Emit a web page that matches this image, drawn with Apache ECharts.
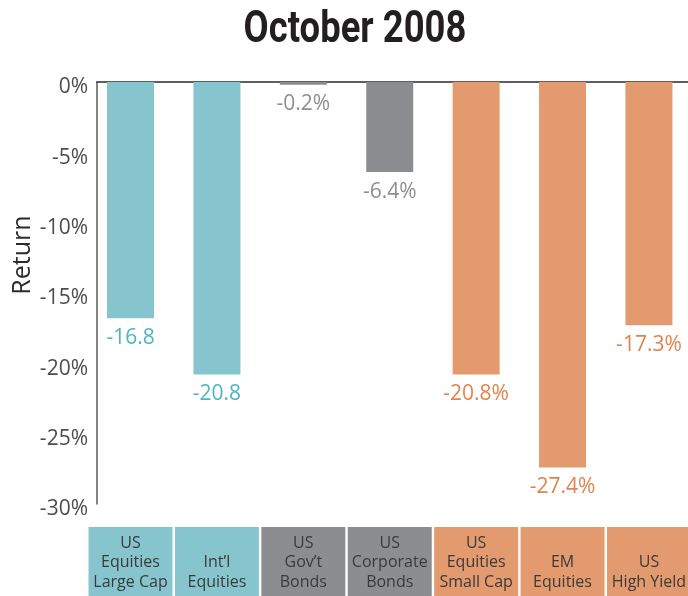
<!DOCTYPE html>
<html>
<head>
<meta charset="utf-8">
<title>October 2008</title>
<script src="https://cdn.jsdelivr.net/npm/echarts@6/dist/echarts.min.js"></script>
<style>
  html, body { margin: 0; padding: 0; background: #ffffff; }
  #chart { width: 688px; height: 596px; }
</style>
</head>
<body>
<div id="chart"></div>
<script>
// Asset classes, October 2008 monthly returns (%)
const categories = [
  'US\nEquities\nLarge Cap',
  'Int’l\nEquities',
  'US\nGov’t\nBonds',
  'US\nCorporate\nBonds',
  'US\nEquities\nSmall Cap',
  'EM\nEquities',
  'US\nHigh Yield'
];
const returns = [-16.8, -20.8, -0.2, -6.4, -20.8, -27.4, -17.3];
const valueSuffix = ['', '', '%', '%', '%', '%', '%'];
const groups = ['equity', 'equity', 'bond', 'bond', 'risk', 'risk', 'risk'];

// Y axis: 0% down to -30% in steps of 5
const yMin = -30;
const yMax = 0;
const yStep = 5;

const palette = {
  equity: { bar: '#86c5cd', text: '#4fb5c3' },
  bond:   { bar: '#8c8d91', text: '#8e8f93' },
  risk:   { bar: '#e39a6f', text: '#e0844f' }
};

const baseFont = '"Open Sans", "DejaVu Sans", sans-serif';

// Shared horizontal mapping: index positions on a value axis
const xMin = -0.388;
const xMax = 6.452;

const chart = echarts.init(document.getElementById('chart'), null, { renderer: 'canvas' });

chart.setOption({
  animation: false,
  backgroundColor: '#ffffff',
  // Condensed bold heading, narrowed horizontally around its centre
  graphic: [
    {
      type: 'text',
      x: 355,
      y: 8,
      scaleX: 0.81,
      scaleY: 1,
      originX: 0,
      originY: 0,
      style: {
        text: 'October 2008',
        fontFamily: 'Roboto, "Liberation Sans", sans-serif',
        fontWeight: 'bold',
        fontSize: 45,
        fill: '#231f20',
        textAlign: 'center',
        textVerticalAlign: 'top'
      }
    }
  ],
  grid: [
    { left: 97, right: 0, top: 82, bottom: 92 },
    { left: 97, right: 0, top: 527, bottom: 0 }
  ],
  xAxis: [
    {
      type: 'value', gridIndex: 0, min: xMin, max: xMax,
      axisLine: { show: true, onZero: true, lineStyle: { color: '#2a2a2a', width: 1.5 } },
      axisTick: { show: false }, axisLabel: { show: false }, splitLine: { show: false }
    },
    {
      type: 'value', gridIndex: 1, min: xMin, max: xMax, show: false
    }
  ],
  yAxis: [
    {
      type: 'value', gridIndex: 0, min: yMin, max: yMax, interval: yStep,
      name: 'Return',
      nameLocation: 'middle',
      nameGap: 62,
      nameMoveOverlap: false,
      nameTextStyle: {
        fontFamily: baseFont, fontSize: 25, color: '#2b2b2b',
        padding: [0, 0, 0, 76]
      },
      axisLine: { show: true, onZero: false, lineStyle: { color: '#5a5a5a', width: 1.5 } },
      axisTick: { show: false },
      splitLine: { show: false },
      axisLabel: {
        margin: 9,
        formatter: v => '{t|' + v + '%}',
        rich: {
          t: {
            fontFamily: baseFont, fontSize: 21, color: '#4d4d4d',
            padding: [11, 0, 0, 0]
          }
        }
      }
    },
    { type: 'value', gridIndex: 1, min: 0, max: 1, show: false }
  ],
  series: [
    {
      type: 'bar',
      xAxisIndex: 0, yAxisIndex: 0,
      barWidth: 47,
      data: returns.map((v, i) => ({
        value: [i, v],
        itemStyle: { color: palette[groups[i]].bar },
        label: { color: palette[groups[i]].text }
      })),
      label: {
        show: true,
        position: 'bottom',
        distance: 9,
        fontFamily: baseFont,
        fontSize: 21,
        formatter: p => p.value[1].toFixed(1) + valueSuffix[p.dataIndex]
      }
    },
    {
      type: 'bar',
      xAxisIndex: 1, yAxisIndex: 1,
      barWidth: 84,
      clip: false,
      silent: true,
      data: categories.map((c, i) => ({
        value: [i, 1],
        itemStyle: { color: palette[groups[i]].bar }
      })),
      label: {
        show: true,
        position: 'insideBottom',
        distance: 4,
        fontFamily: baseFont,
        fontSize: 16,
        lineHeight: 19.5,
        color: '#3a3a3a',
        formatter: p => categories[p.dataIndex]
      }
    }
  ]
});
</script>
</body>
</html>
